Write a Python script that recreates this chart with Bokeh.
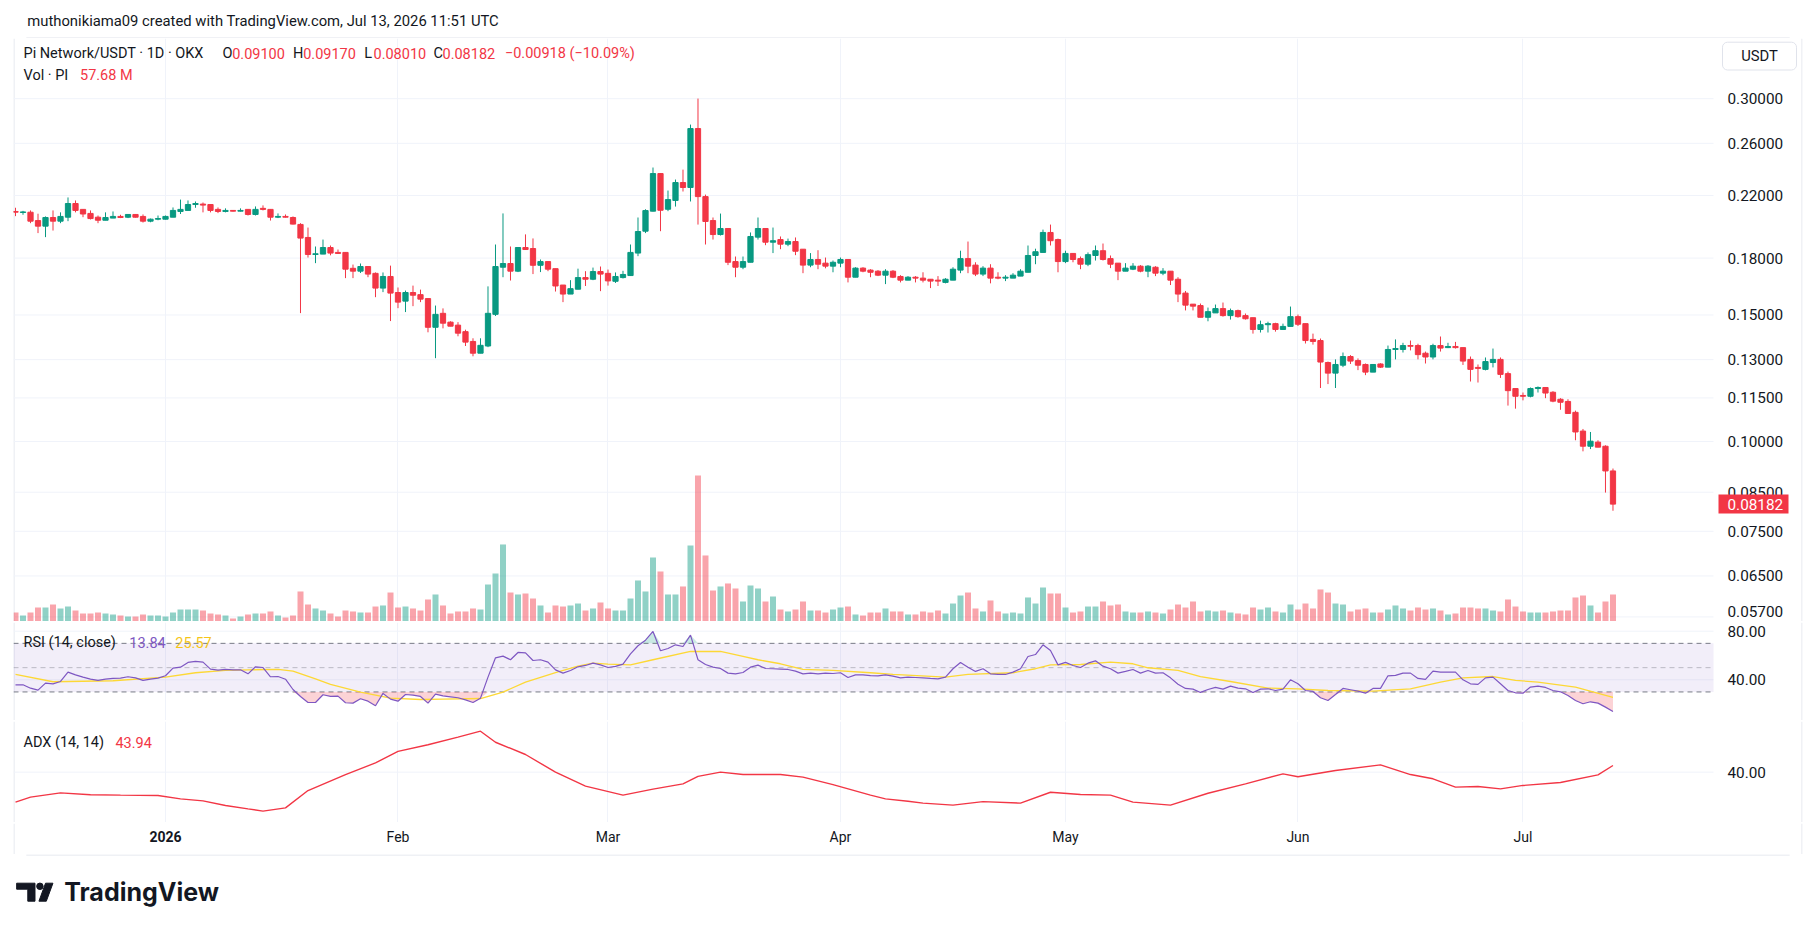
import numpy as np
import pandas as pd
from bokeh.plotting import figure
from bokeh.models import Range1d, LinearScale, FixedTicker, Label, ColumnDataSource
from bokeh.layouts import column
from bokeh.core.properties import value
from bokeh.embed import file_html
from bokeh.resources import INLINE

# ---------------- data ----------------
dates = pd.date_range("2025-12-12", "2026-07-13", freq="D")

open_ = [
    .2090, .2083, .2085, .2030, .1994, .2050, .2026, .2052, .2144, .2104,
    .2077, .2052, .2032, .2046, .2057, .2052, .2070, .2057, .2026, .2039,
    .2039, .2052, .2090, .2097, .2137, .2140, .2137, .2104, .2090, .2097,
    .2092, .2104, .2070, .2111, .2104, .2052, .2057, .2050, .2005, .1923,
    .1821, .1823, .1862, .1833, .1833, .1742, .1726, .1752, .1714, .1635,
    .1697, .1612, .1568, .1612, .1601, .1581, .1442, .1508, .1466, .1452,
    .1422, .1378, .1327, .1358, .1503, .1748, .1769, .1726, .1862, .1856,
    .1759, .1780, .1740, .1651, .1604, .1629, .1691, .1682, .1724, .1714,
    .1671, .1691, .1702, .1829, .1962, .2092, .2360, .2105, .2165, .2293,
    .2257, .2726, .2192, .2030, .1941, .1979, .1780, .1748, .1776, .1925,
    .1979, .1894, .1910, .1882, .1898, .1852, .1760, .1792, .1771, .1754,
    .1771, .1792, .1693, .1743, .1732, .1726, .1704, .1726, .1697, .1677,
    .1693, .1688, .1682, .1677, .1665, .1677, .1732, .1797, .1760, .1710,
    .1743, .1693, .1688, .1688, .1699, .1720, .1815, .1833, .1954, .1910,
    .1780, .1827, .1797, .1765, .1815, .1843, .1797, .1771, .1726, .1737,
    .1754, .1726, .1748, .1715, .1726, .1682, .1609, .1553, .1546, .1489,
    .1510, .1531, .1497, .1521, .1497, .1487, .1432, .1454, .1459, .1432,
    .1446, .1492, .1459, .1387, .1382, .1288, .1245, .1277, .1313, .1296,
    .1280, .1249, .1282, .1269, .1343, .1343, .1360, .1360, .1327, .1311,
    .1360, .1351, .1356, .1351, .1301, .1268, .1260, .1288, .1301, .1243,
    .1185, .1159, .1156, .1185, .1189, .1171, .1145, .1137, .1098, .1034,
    .0985, .0998, .0985, .0910]

high = [
    .2115, .2094, .2097, .2075, .2057, .2097, .2084, .2186, .2165, .2104,
    .2097, .2063, .2084, .2090, .2068, .2070, .2072, .2070, .2043, .2063,
    .2063, .2117, .2171, .2165, .2158, .2151, .2137, .2117, .2111, .2099,
    .2111, .2104, .2124, .2131, .2104, .2077, .2070, .2057, .2013, .1985,
    .1868, .1910, .1874, .1850, .1833, .1763, .1769, .1752, .1719, .1719,
    .1757, .1638, .1622, .1648, .1627, .1581, .1546, .1532, .1470, .1466,
    .1431, .1392, .1392, .1644, .1880, .2077, .1868, .1862, .1942, .1917,
    .1792, .1780, .1740, .1651, .1677, .1740, .1726, .1746, .1752, .1735,
    .1719, .1728, .1880, .2050, .2105, .2406, .2362, .2235, .2315, .2390,
    .2761, .3001, .2206, .2050, .2076, .1979, .1809, .1809, .1954, .2050,
    .1979, .1985, .1929, .1916, .1923, .1852, .1829, .1846, .1803, .1786,
    .1803, .1792, .1748, .1748, .1737, .1732, .1737, .1732, .1704, .1699,
    .1699, .1720, .1682, .1699, .1688, .1748, .1843, .1898, .1776, .1754,
    .1765, .1720, .1704, .1715, .1737, .1874, .1855, .1972, .2004, .1916,
    .1843, .1827, .1809, .1833, .1874, .1886, .1815, .1771, .1771, .1771,
    .1760, .1760, .1754, .1743, .1726, .1693, .1620, .1553, .1556, .1536,
    .1551, .1561, .1531, .1526, .1507, .1487, .1473, .1468, .1463, .1459,
    .1541, .1502, .1459, .1413, .1391, .1292, .1301, .1330, .1319, .1305,
    .1284, .1280, .1285, .1360, .1387, .1372, .1382, .1368, .1334, .1368,
    .1400, .1372, .1376, .1351, .1313, .1280, .1309, .1347, .1309, .1251,
    .1185, .1170, .1189, .1193, .1189, .1175, .1149, .1145, .1104, .1041,
    .1031, .1004, .0988, .0917]

low = [
    .2059, .2068, .2013, .1950, .1925, .1966, .2013, .2026, .2084, .2052,
    .2037, .2013, .2032, .2046, .2046, .2046, .2050, .2017, .2019, .2032,
    .2037, .2052, .2073, .2097, .2115, .2084, .2084, .2079, .2084, .2090,
    .2090, .2063, .2063, .2097, .2030, .2046, .2050, .2005, .1509, .1803,
    .1771, .1823, .1816, .1825, .1688, .1688, .1716, .1693, .1588, .1614,
    .1471, .1533, .1514, .1543, .1563, .1419, .1306, .1437, .1447, .1401,
    .1358, .1314, .1327, .1353, .1495, .1693, .1675, .1721, .1848, .1710,
    .1721, .1726, .1617, .1563, .1604, .1629, .1646, .1677, .1619, .1648,
    .1662, .1686, .1700, .1811, .1950, .2090, .1962, .2092, .2123, .2228,
    .2158, .2004, .1880, .1910, .1935, .1760, .1693, .1737, .1776, .1910,
    .1876, .1829, .1852, .1870, .1817, .1715, .1748, .1737, .1742, .1720,
    .1748, .1665, .1693, .1720, .1693, .1699, .1656, .1688, .1665, .1677,
    .1665, .1665, .1635, .1646, .1660, .1677, .1715, .1715, .1699, .1699,
    .1660, .1682, .1672, .1688, .1699, .1720, .1765, .1833, .1874, .1720,
    .1771, .1776, .1737, .1754, .1786, .1786, .1743, .1677, .1726, .1732,
    .1720, .1693, .1699, .1704, .1651, .1563, .1522, .1522, .1489, .1470,
    .1510, .1492, .1478, .1487, .1478, .1413, .1418, .1418, .1422, .1432,
    .1446, .1448, .1369, .1364, .1187, .1202, .1187, .1269, .1282, .1257,
    .1237, .1249, .1266, .1269, .1301, .1330, .1339, .1301, .1284, .1301,
    .1334, .1349, .1347, .1278, .1212, .1208, .1256, .1268, .1226, .1122,
    .1111, .1141, .1152, .1170, .1149, .1134, .1107, .1094, .1004, .0969,
    .0976, .0982, .0849, .0801]

close = [
    .2085, .2087, .2026, .1994, .2050, .2026, .2057, .2144, .2097, .2073,
    .2043, .2032, .2050, .2057, .2050, .2070, .2052, .2026, .2039, .2043,
    .2057, .2097, .2104, .2137, .2144, .2133, .2097, .2090, .2097, .2092,
    .2097, .2070, .2104, .2104, .2052, .2057, .2052, .2007, .1919, .1821,
    .1825, .1862, .1829, .1827, .1737, .1726, .1752, .1710, .1635, .1697,
    .1609, .1563, .1612, .1598, .1578, .1442, .1503, .1461, .1447, .1415,
    .1375, .1327, .1361, .1508, .1752, .1769, .1726, .1862, .1850, .1759,
    .1780, .1737, .1646, .1604, .1632, .1691, .1682, .1724, .1710, .1673,
    .1697, .1708, .1833, .1960, .2096, .2360, .2098, .2171, .2293, .2257,
    .2726, .2192, .2024, .1941, .1979, .1776, .1748, .1780, .1929, .1979,
    .1894, .1903, .1882, .1898, .1840, .1760, .1792, .1765, .1754, .1776,
    .1792, .1693, .1743, .1726, .1720, .1704, .1726, .1693, .1677, .1693,
    .1688, .1677, .1672, .1672, .1682, .1737, .1797, .1754, .1710, .1743,
    .1688, .1688, .1693, .1704, .1726, .1815, .1837, .1954, .1903, .1780,
    .1827, .1792, .1765, .1820, .1843, .1792, .1765, .1726, .1743, .1754,
    .1726, .1754, .1715, .1726, .1677, .1604, .1548, .1543, .1489, .1516,
    .1531, .1497, .1521, .1492, .1482, .1432, .1454, .1459, .1432, .1446,
    .1492, .1456, .1382, .1378, .1290, .1245, .1280, .1313, .1294, .1277,
    .1249, .1280, .1269, .1343, .1347, .1360, .1357, .1321, .1311, .1360,
    .1349, .1356, .1351, .1294, .1260, .1264, .1292, .1301, .1240, .1177,
    .1156, .1156, .1185, .1189, .1168, .1138, .1134, .1094, .1031, .0985,
    .1001, .0982, .0910, .08182]

volume_m = [
    19.2, 12.8, 19.2, 29.9, 29.9, 36.3, 27.8, 32.0, 23.5, 17.1,
    17.1, 19.2, 17.1, 15.0, 12.8, 10.7, 10.7, 15.0, 12.8, 12.8,
    10.7, 19.2, 25.6, 25.6, 25.6, 23.5, 17.1, 15.0, 12.8, 6.4,
    10.7, 15.0, 17.1, 17.1, 21.4, 12.8, 8.5, 12.8, 64.1, 36.3,
    27.8, 23.5, 17.1, 10.7, 23.5, 21.4, 19.2, 19.2, 32.0, 34.2,
    61.9, 29.9, 32.0, 27.8, 23.5, 47.0, 57.7, 34.2, 17.1, 21.4,
    21.4, 27.8, 25.6, 79.0, 102.5, 164.5, 61.9, 57.7, 59.8, 49.1,
    34.2, 19.2, 34.2, 32.0, 34.2, 38.4, 23.5, 27.8, 40.6, 27.8,
    23.5, 23.5, 49.1, 87.6, 64.1, 136.7, 106.8, 57.7, 57.7, 74.8,
    162.3, 311.9, 141.0, 66.2, 74.8, 81.2, 70.5, 42.7, 76.9, 70.5,
    42.7, 53.4, 25.6, 21.4, 25.6, 42.7, 23.5, 23.5, 19.2, 25.6,
    29.9, 32.0, 15.0, 12.8, 19.2, 19.2, 27.8, 21.4, 21.4, 15.0,
    15.0, 21.4, 19.2, 23.5, 17.1, 38.4, 55.5, 61.9, 27.8, 21.4,
    44.9, 21.4, 17.1, 19.2, 17.1, 51.3, 38.4, 72.6, 59.8, 59.8,
    29.9, 19.2, 21.4, 32.0, 32.0, 42.7, 34.2, 36.3, 21.4, 19.2,
    19.2, 21.4, 19.2, 17.1, 25.6, 36.3, 29.9, 42.7, 21.4, 23.5,
    21.4, 23.5, 19.2, 17.1, 15.0, 29.9, 25.6, 29.9, 21.4, 19.2,
    36.3, 25.6, 38.4, 27.8, 68.4, 61.9, 38.4, 36.3, 21.4, 25.6,
    27.8, 19.2, 19.2, 25.6, 34.2, 27.8, 23.5, 29.9, 25.6, 27.8,
    23.5, 15.0, 17.1, 29.9, 29.9, 27.8, 27.8, 23.5, 21.4, 47.0,
    32.0, 21.4, 19.2, 19.2, 19.2, 21.4, 23.5, 23.5, 51.3, 55.5,
    34.2, 19.2, 42.7, 57.68]

rsi = [
    35.9, 35.9, 33.1, 31.5, 37.3, 36.7, 38.6, 46.3, 44.1, 42.2,
    40.5, 39.5, 40.5, 41.1, 41.4, 42.5, 41.6, 39.5, 40.5, 41.4,
    43.3, 49.6, 50.4, 54.3, 55.1, 54.5, 48.8, 48.0, 48.5, 48.2,
    48.2, 44.9, 50.7, 50.1, 42.5, 42.7, 40.5, 32.0, 26.3, 21.3,
    21.3, 27.7, 26.3, 26.6, 21.1, 20.8, 24.4, 22.4, 18.6, 28.8,
    24.1, 22.4, 27.9, 27.4, 26.3, 20.8, 28.2, 26.8, 26.0, 25.2,
    23.5, 21.3, 24.9, 42.2, 58.1, 59.5, 56.5, 62.5, 62.2, 55.9,
    56.5, 54.5, 48.2, 45.5, 47.7, 50.7, 51.8, 53.7, 52.3, 50.1,
    51.0, 52.9, 61.4, 68.0, 72.6, 79.8, 63.9, 65.8, 68.8, 67.4,
    76.8, 56.5, 52.6, 50.4, 49.3, 45.5, 44.9, 46.0, 50.4, 52.1,
    49.3, 49.1, 48.8, 48.5, 47.1, 44.9, 45.5, 44.9, 45.5, 45.2,
    45.8, 41.9, 44.1, 44.0, 43.4, 43.3, 44.1, 43.0, 41.6, 42.2,
    41.9, 41.6, 41.1, 40.8, 42.2, 49.1, 54.3, 50.4, 46.9, 49.1,
    44.9, 44.4, 44.4, 46.3, 49.1, 59.2, 60.8, 68.8, 64.1, 52.3,
    54.3, 51.8, 50.1, 53.7, 55.6, 51.2, 49.1, 45.5, 46.9, 48.5,
    45.5, 47.7, 45.5, 45.8, 41.6, 36.4, 32.9, 32.3, 29.6, 32.0,
    33.7, 32.3, 34.8, 33.1, 32.6, 29.6, 32.3, 32.6, 31.2, 32.3,
    40.0, 36.7, 31.2, 30.4, 25.2, 23.0, 27.9, 32.9, 31.8, 30.7,
    29.0, 32.9, 32.9, 43.3, 43.6, 45.5, 45.5, 41.1, 40.3, 47.1,
    46.3, 46.3, 46.3, 40.0, 36.7, 36.2, 41.6, 42.2, 36.7, 31.2,
    29.3, 29.0, 34.0, 34.8, 33.7, 31.2, 30.1, 27.1, 23.0, 20.3,
    21.9, 20.8, 17.5, 13.84]

# RSI moving average, read at sample days (day number counted from the first date)
rsi_ma_day = [0, 5, 13, 20, 24, 28, 31, 35, 37, 40, 42, 46, 50, 54, 57, 62, 65, 68, 72, 75,
              77, 79, 82, 85, 90, 94, 97, 99, 102, 105, 109, 114, 117, 124, 127, 133, 136, 138, 142, 146,
              149, 151, 155, 158, 162, 167, 171, 175, 181, 186, 190, 193, 197, 200, 203, 208, 213]
rsi_ma = [44.4, 38.4, 39.2, 42.2, 45.8, 47.7, 48.2, 48.5, 47.1, 40.8, 36.2, 29.9, 24.9, 23.8, 24.1, 24.6, 29.9, 38.1, 46.0, 51.2,
          53.7, 52.9, 52.3, 56.5, 63.3, 63.3, 59.2, 56.5, 53.2, 48.5, 47.7, 45.8, 44.4, 42.2, 44.4, 45.8, 49.1, 52.3, 52.6, 54.5,
          53.2, 49.9, 47.7, 42.7, 38.6, 33.1, 32.6, 31.2, 30.7, 32.6, 38.1, 41.6, 42.7, 39.5, 38.1, 34.0, 25.57]

adx_day = [0, 2, 6, 10, 14, 19, 22, 25, 28, 31, 33, 36, 39, 44, 48, 51, 55, 59, 62, 64,
           68, 72, 76, 81, 85, 89, 91, 94, 97, 102, 105, 109, 114, 116, 119, 121, 125, 129, 134, 138,
           142, 146, 149, 154, 159, 164, 169, 171, 176, 182, 186, 189, 192, 195, 198, 201, 206, 211, 213]
adx = [22.4, 25.3, 27.8, 26.7, 26.5, 26.3, 24.3, 23.1, 20.4, 18.4, 17.1, 19.0, 29.2, 38.6, 45.5, 52.2, 56.1, 60.6, 64.1, 57.6,
       50.4, 40.0, 31.8, 26.5, 30.0, 33.1, 37.5, 40.0, 38.6, 38.6, 37.1, 32.7, 26.5, 24.3, 22.9, 21.8, 20.6, 22.7, 21.8, 28.2,
       26.9, 26.5, 22.4, 20.6, 27.6, 33.1, 39.0, 37.3, 41.0, 44.3, 38.6, 36.1, 31.2, 31.6, 30.2, 32.2, 33.9, 38.4, 43.94]

price_ticks = [0.057, 0.065, 0.075, 0.085, 0.10, 0.115, 0.13, 0.15, 0.18, 0.22, 0.26, 0.30]
rsi_ticks = [40, 80]
adx_ticks = [40]

# ---------------- style ----------------
FONT = "Roboto"
TXT = "#131722"
GRID = "#f0f3fa"
BORDER = "#e0e3eb"
GREEN = "#089981"
RED = "#f23645"
PURPLE = "#7e57c2"
YELLOW = "#fdd835"
W = 1815
FW = 1789          # frame width (chart + price scale column)
CW = 1700          # chart area width inside the frame
AX = 1714          # price-scale label start inside the frame
LEG = "14.5px"     # legend font
SCL = "15.3px"     # scale font

n = len(dates)
xs = np.arange(n)
o = np.array(open_); h = np.array(high); l = np.array(low); c = np.array(close)
up = c >= o
colors = np.where(up, GREEN, RED)
src = ColumnDataSource(dict(x=xs, o=o, h=h, l=l, c=c,
                            top=np.maximum(o, c), bottom=np.minimum(o, c),
                            color=colors, vol=np.array(volume_m), rsi=np.array(rsi)))

month_ticks = [int(i) for i, d in enumerate(dates) if d.day == 1]
month_labels = [("2026" if dates[t].month == 1 else dates[t].strftime("%b")) for t in month_ticks]

xr = Range1d(-0.267, 238.27)


def pane(height, y_range, y_type="linear"):
    p = figure(width=W, height=height, x_range=xr, y_range=y_range, y_axis_type=y_type,
               x_axis_location=None, y_axis_location=None,
               toolbar_location=None, output_backend="svg",
               min_border_left=13, min_border_right=13, min_border_top=0, min_border_bottom=0,
               outline_line_color=None, background_fill_color="white", border_fill_color="white")
    p.extra_x_ranges = {"px": Range1d(0, FW)}
    p.extra_x_scales = {"px": LinearScale()}
    p.extra_y_ranges = {"py": Range1d(height, 0)}
    p.extra_y_scales = {"py": LinearScale()}
    p.ygrid.visible = False
    p.xgrid.ticker = FixedTicker(ticks=month_ticks)
    p.xgrid.grid_line_color = GRID
    # left / right outer border
    p.segment(x0=[0.5, FW - 0.5], y0=[0, 0], x1=[0.5, FW - 0.5], y1=[height, height],
              x_range_name="px", y_range_name="py", line_color=BORDER, line_width=1)
    return p


def hgrid(p, ticks, y_range_name="default"):
    p.segment(x0=0, x1=CW, y0=ticks, y1=ticks, x_range_name="px", y_range_name=y_range_name,
              line_color=GRID, line_width=1)


def scale_text(p, ticks, fmt, y_offset=0, color=TXT):
    p.text(x=[AX] * len(ticks), y=ticks, text=[fmt % t for t in ticks],
           x_range_name="px", y_offset=y_offset,
           text_font=value(FONT), text_font_size=SCL, text_color=color,
           text_align="left", text_baseline="middle")


def txt(p, x, y, text, color=TXT, size=LEG):
    p.add_layout(Label(x=x, y=y, text=text, x_range_name="px", y_range_name="py",
                       text_font=FONT, text_font_size=size, text_color=color,
                       text_baseline="middle"))


def separator():
    s = figure(width=W, height=1, x_range=Range1d(0, 1), y_range=Range1d(0, 1),
               x_axis_location=None, y_axis_location=None, toolbar_location=None,
               output_backend="svg", min_border_left=13, min_border_right=13,
               min_border_top=0, min_border_bottom=0, outline_line_color=None,
               background_fill_color=BORDER, border_fill_color="white")
    s.grid.visible = False
    return s


# ---------------- header ----------------
hdr = figure(width=W, height=38, x_range=Range1d(0, W), y_range=Range1d(38, 0),
             x_axis_location=None, y_axis_location=None, toolbar_location=None,
             output_backend="svg", min_border=0, outline_line_color=None)
hdr.grid.visible = False
hdr.add_layout(Label(x=14, y=20, text="muthonikiama09 created with TradingView.com, Jul 13, 2026 11:51 UTC",
                     text_font=FONT, text_font_size="14.8px", text_color=TXT, text_baseline="middle"))
hdr.segment(x0=13, y0=37.5, x1=1802, y1=37.5, line_color=BORDER, line_width=1)

# ---------------- price pane ----------------
PH = 583
pp = pane(PH, Range1d(0.05617, 0.3638), y_type="log")
pp.extra_y_ranges["vol"] = Range1d(0, 1245)
pp.extra_y_scales["vol"] = LinearScale()
hgrid(pp, price_ticks)

pp.vbar(x="x", top="vol", bottom=0, width=0.8, fill_color="color", fill_alpha=0.45,
        line_color=None, y_range_name="vol", source=src)
pp.segment(x0="x", y0="l", x1="x", y1="h", line_color="color", line_width=1, source=src)
pp.vbar(x="x", top="top", bottom="bottom", width=0.7, fill_color="color", line_color="color",
        line_width=1, source=src)

scale_text(pp, price_ticks[1:], "%.5f")
scale_text(pp, price_ticks[:1], "%.5f", y_offset=-5)

# last price marker on the price scale
pp.rect(x=[1740], y=[close[-1]], width=70, height=19, width_units="screen", height_units="screen",
        x_range_name="px", fill_color=RED, line_color=None)
scale_text(pp, [close[-1]], "%.5f", color="white")

# currency box
pp.quad(left=1709, right=1783, top=3.7, bottom=31.5, x_range_name="px", y_range_name="py",
        fill_color="white", line_color=BORDER, line_width=1, border_radius=5)
pp.text(x=[1746], y=[17.6], text=["USDT"], x_range_name="px", y_range_name="py",
        text_font=value(FONT), text_font_size="14.8px", text_color=TXT,
        text_align="center", text_baseline="middle")

# legend
txt(pp, 10, 15.3, "Pi Network/USDT · 1D · OKX")
txt(pp, 209, 15.3, "O")
txt(pp, 218.7, 15.3, "0.09100", RED)
txt(pp, 279.4, 15.3, "H")
txt(pp, 289.7, 15.3, "0.09170", RED)
txt(pp, 350.8, 15.3, "L")
txt(pp, 360, 15.3, "0.08010", RED)
txt(pp, 420, 15.3, "C")
txt(pp, 429, 15.3, "0.08182", RED)
txt(pp, 491.4, 15.3, "−0.00918 (−10.09%)", RED)
txt(pp, 10, 37.3, "Vol · PI")
txt(pp, 66.5, 37.3, "57.68 M", RED)

# ---------------- RSI pane ----------------
RH = 98
rp = pane(RH, Range1d(6.5, 87.16))
hgrid(rp, rsi_ticks)
rp.quad(left=0, right=CW, bottom=30, top=70, x_range_name="px",
        fill_color=PURPLE, fill_alpha=0.1, line_color=None)
for lvl, alpha in ((70, 1.0), (30, 1.0), (50, 0.45)):
    rp.segment(x0=0, x1=CW, y0=lvl, y1=lvl, x_range_name="px", line_color="#787b86",
               line_alpha=alpha, line_dash="5 4", line_width=1)
rsi_arr = np.array(rsi)
rp.varea(x=xs, y1=np.minimum(rsi_arr, 30), y2=30, fill_color=RED, fill_alpha=0.22)
rp.varea(x=xs, y1=70, y2=np.maximum(rsi_arr, 70), fill_color=GREEN, fill_alpha=0.22)
rp.line(x=rsi_ma_day, y=rsi_ma, line_color=YELLOW, line_width=1.3)
rp.line(x="x", y="rsi", line_color=PURPLE, line_width=1.2, source=src)
scale_text(rp, rsi_ticks, "%.2f")
txt(rp, 10, 19.7, "RSI (14, close)")
txt(rp, 115.8, 19.7, "13.84", PURPLE)
txt(rp, 161.8, 19.7, "25.57", "#f5c518")

# ---------------- ADX pane ----------------
AH = 101
ap = pane(AH, Range1d(10.4, 69.8))
hgrid(ap, adx_ticks)
ap.line(x=adx_day, y=adx, line_color=RED, line_width=1.4)
scale_text(ap, adx_ticks, "%.2f")
txt(ap, 10, 20.7, "ADX (14, 14)")
txt(ap, 101.9, 20.7, "43.94", RED)

# ---------------- time scale ----------------
TH = 31
ts = figure(width=W, height=TH, x_range=xr, y_range=Range1d(TH, 0),
            x_axis_location=None, y_axis_location=None, toolbar_location=None,
            output_backend="svg", min_border_left=13, min_border_right=13,
            min_border_top=0, min_border_bottom=0, outline_line_color=None,
            background_fill_color="white", border_fill_color="white")
ts.grid.visible = False
ts.extra_x_ranges = {"px": Range1d(0, FW)}
ts.extra_x_scales = {"px": LinearScale()}
ts.segment(x0=[0.5, FW - 0.5], y0=[0, 0], x1=[0.5, FW - 0.5], y1=[TH, TH],
           x_range_name="px", line_color=BORDER, line_width=1)
reg = [(t, lab) for t, lab in zip(month_ticks, month_labels) if lab != "2026"]
yr = [(t, lab) for t, lab in zip(month_ticks, month_labels) if lab == "2026"]
ts.text(x=[t for t, _ in reg], y=[13] * len(reg), text=[lab for _, lab in reg],
        text_font=value(FONT), text_font_size="14px", text_color=TXT,
        text_align="center", text_baseline="middle")
ts.text(x=[t for t, _ in yr], y=[13] * len(yr), text=[lab for _, lab in yr],
        text_font=value(FONT), text_font_size="14px", text_font_style="bold", text_color=TXT,
        text_align="center", text_baseline="middle")

# ---------------- footer (logo) ----------------
ft = figure(width=W, height=76, x_range=Range1d(0, W), y_range=Range1d(76, 0),
            x_axis_location=None, y_axis_location=None, toolbar_location=None,
            output_backend="svg", min_border=0, outline_line_color=None)
ft.grid.visible = False
ft.segment(x0=13, y0=0.5, x1=1802, y1=0.5, line_color=BORDER, line_width=1)
LX = -12.5  # logo shift
ft.patch(x=[LX + 15.7, LX + 34.3, LX + 34.3, LX + 27.0, LX + 27.0, LX + 15.7],
         y=[28.7, 28.7, 46.7, 46.7, 34.7, 34.7], color="#131722")
ft.scatter(x=[LX + 39.3], y=[31.8], size=6.5, color="#131722")
ft.patch(x=[LX + 45.0, LX + 52.5, LX + 45.8, LX + 38.3], y=[28.7, 28.7, 46.7, 46.7], color="#131722")
ft.add_layout(Label(x=LX + 64, y=37.7, text="TradingView", text_font="Inter", text_font_size="25px",
                    text_font_style="bold", text_color="#131722", text_baseline="middle"))

layout = column(hdr, pp, separator(), rp, separator(), ap, separator(), ts, ft, spacing=0)
open("out.html", "w").write(file_html(layout, INLINE))
